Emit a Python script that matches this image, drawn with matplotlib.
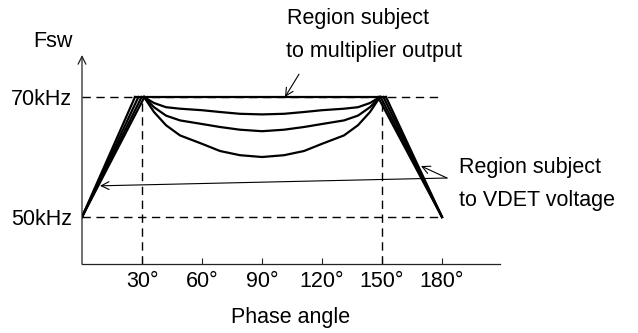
import matplotlib
matplotlib.use("Agg")
import matplotlib.pyplot as plt

plt.rcParams['font.family'] = ['Liberation Sans', 'DejaVu Sans']

# --- data (phase angle in degrees, Fsw in kHz) ---
f_max = 70
f_min = 50
xticks = [30, 60, 90, 120, 150, 180]
xtick_labels = ["30°", "60°", "90°", "120°", "150°", "180°"]
ytick_vals = [50, 70]
ytick_labels = ["50kHz", "70kHz"]

curve_angle = [31, 36, 42, 49, 60, 69, 79, 90, 101, 111, 120, 131, 138, 144, 149]
curve_shallow = [70, 69.0, 68.3, 68.05, 67.8, 67.5, 67.2, 67.1, 67.2, 67.5, 67.8, 68.05, 68.3, 69.0, 70]
curve_mid = [70, 68.3, 66.9, 66.1, 65.5, 65.0, 64.55, 64.3, 64.55, 65.0, 65.5, 66.1, 66.9, 68.3, 70]
curve_deep = [70, 67.5, 65.3, 63.6, 62.2, 61.0, 60.3, 60.0, 60.3, 61.0, 62.2, 63.6, 65.3, 67.5, 70]

ramp_left_top = [26.5, 28.2, 29.8, 31.2]
ramp_right_top = [152, 150.7, 149.3, 148]
ramp_start, ramp_end = 0, 180

fs = 15.5

fig = plt.figure(figsize=(6.38, 3.33), dpi=100)
ax = fig.add_axes([82 / 638, 69 / 333, 418 / 638, 209 / 333])
ax.set_xlim(0, 209)
ax.set_ylim(42.17, 77)

for s in ["top", "right", "left"]:
    ax.spines[s].set_visible(False)
ax.spines["bottom"].set_color("#222222")
ax.spines["bottom"].set_linewidth(0.9)

# y axis with open arrow head
ax.annotate("", xy=(0, 1), xycoords="axes fraction", xytext=(0, 0),
            arrowprops=dict(arrowstyle="->", lw=0.9, color="#222222",
                            shrinkA=0, shrinkB=0, mutation_scale=14))

ax.set_xticks(xticks, xtick_labels, fontsize=fs)
ax.tick_params(axis="x", direction="in", length=4.5, width=0.8, pad=5, color="#222222")
ax.set_yticks(ytick_vals, ytick_labels, fontsize=fs)
ax.tick_params(axis="y", length=0, pad=7)
ax.set_xlabel("Phase angle", fontsize=fs, labelpad=11)
ax.text(-14.5, 79.2, "Fsw", fontsize=fs, ha="center", va="center", clip_on=False)

# dashed guide lines
dash = dict(color="black", lw=1.0, linestyle=(0, (6, 4)))
ax.plot([0, 180], [f_max, f_max], **dash)
ax.plot([0, 180], [f_min, f_min], **dash)
ax.plot([30, 30], [42.17, f_max], **dash)
ax.plot([150, 150], [42.17, f_max], **dash)

# switching frequency curves
lw = 1.6
ax.plot([ramp_left_top[0], ramp_right_top[0]], [f_max, f_max], color="black", lw=lw)
for c in [curve_shallow, curve_mid, curve_deep]:
    ax.plot(curve_angle, c, color="black", lw=lw, solid_joinstyle="round")
for t in ramp_left_top:
    ax.plot([ramp_start, t], [f_min, f_max], color="black", lw=lw)
for t in ramp_right_top:
    ax.plot([t, ramp_end], [f_max, f_min], color="black", lw=lw)

# annotations
ax.text(102.5, 83.1, "Region subject", fontsize=fs, ha="left", va="center", clip_on=False)
ax.text(102, 77.6, "to multiplier output", fontsize=fs, ha="left", va="center", clip_on=False)
arr = dict(arrowstyle="->", lw=0.8, color="black", shrinkA=0, shrinkB=0, mutation_scale=14)
ax.annotate("", xy=(101.5, 70), xytext=(108.5, 73.8), arrowprops=arr, annotation_clip=False)

ax.text(188.5, 58.2, "Region subject", fontsize=fs, ha="left", va="center", clip_on=False)
ax.text(188.5, 52.8, "to VDET voltage", fontsize=fs, ha="left", va="center", clip_on=False)
ax.annotate("", xy=(169.5, 58.5), xytext=(182.5, 56.5), arrowprops=arr, annotation_clip=False)
ax.annotate("", xy=(9, 55.2), xytext=(182.5, 56.5), arrowprops=arr, annotation_clip=False)

fig.savefig("out.png", dpi=100)
